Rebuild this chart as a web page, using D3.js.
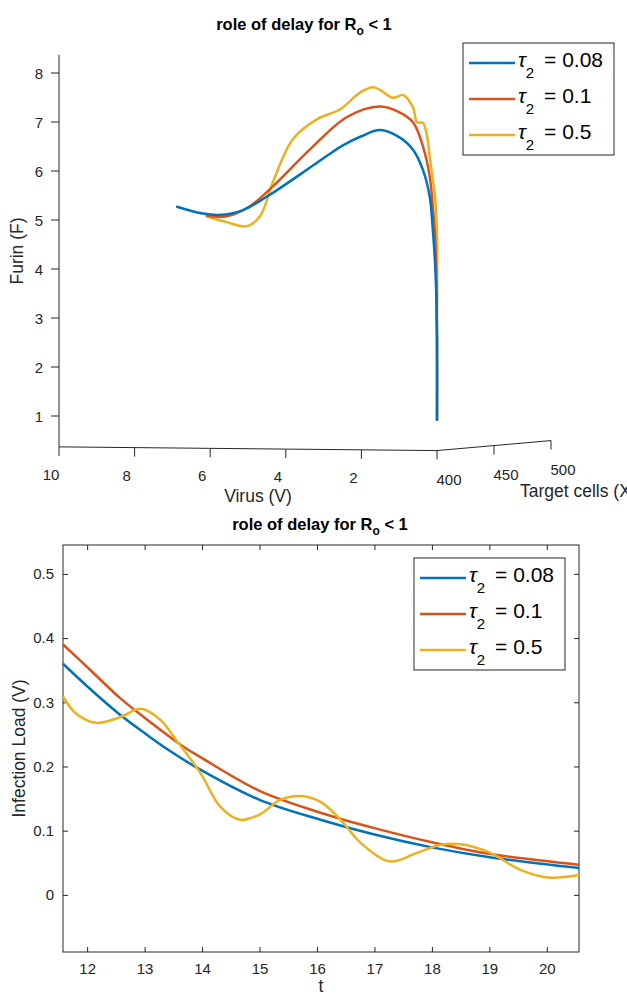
<!DOCTYPE html>
<html>
<head>
<meta charset="utf-8">
<script src="https://cdn.jsdelivr.net/npm/d3@7"></script>
<style>
  body { margin: 0; background: #fff; }
  text { font-family: "Liberation Sans", Arial, sans-serif; fill: #262626; }
  .tick text { font-size: 15px; }
</style>
</head>
<body>
<script>
// series shared by both panels
const seriesNames = ["0.08", "0.1", "0.5"];
const seriesColors = ["#0072BD", "#D95319", "#EDB120"];

// top panel: trajectory in (Virus, Target cells, Furin) space
const targetCells = 400;
const topBlueV = [0, 0, 0.02, 0.05, 0.11, 0.19, 0.37, 0.63, 0.98, 1.51, 2.0, 2.49, 2.9, 3.36, 4.42, 5.13, 5.7, 6.19, 6.9];
const topBlueF = [0.98, 2.6, 3.6, 4.19, 4.87, 5.54, 6.09, 6.5, 6.75, 6.9, 6.77, 6.58, 6.37, 6.12, 5.56, 5.24, 5.14, 5.16, 5.3];
const topRedV = [0, 0, 0.02, 0.05, 0.11, 0.19, 0.37, 0.63, 0.98, 1.51, 2.38, 3.36, 4.34, 4.95, 5.56, 6.12];
const topRedF = [0.98, 2.6, 3.9, 4.73, 5.34, 5.95, 6.57, 7.06, 7.26, 7.38, 7.16, 6.49, 5.73, 5.32, 5.11, 5.12];
const topYellowV = [0, 0, 0, 0.05, 0.11, 0.19, 0.26, 0.37, 0.53, 0.63, 0.9, 1.16, 1.51, 1.69, 2.04, 2.57, 3.17, 3.81, 4.34, 4.68, 5.03, 5.56, 6.1];
const topYellowF = [0.98, 2.6, 4.73, 5.54, 5.89, 6.36, 6.77, 7.05, 7.07, 7.36, 7.62, 7.56, 7.72, 7.77, 7.66, 7.31, 7.11, 6.7, 5.82, 5.12, 4.91, 4.99, 5.1];

const fTicks = [1, 2, 3, 4, 5, 6, 7, 8];
const vTicks = [2, 4, 6, 8, 10];
const cellTicks = [400, 450, 500];
const fLim = [0.37, 8.37];

// bottom panel: infection load over time
const botBlueT = [11.58, 12.0, 12.54, 13.0, 13.41, 13.97, 15.0, 16.06, 17.0, 18.0, 18.98, 20.56];
const botBlueV = [0.36, 0.325, 0.283, 0.252, 0.226, 0.195, 0.148, 0.117, 0.094, 0.074, 0.059, 0.042];
const botRedT = [11.58, 12.0, 12.58, 13.0, 13.69, 14.0, 15.0, 16.06, 17.0, 18.0, 19.0, 20.56];
const botRedV = [0.39, 0.355, 0.306, 0.276, 0.23, 0.213, 0.162, 0.128, 0.104, 0.082, 0.064, 0.047];
const botYellowT = [11.58, 11.8, 12.16, 12.58, 12.93, 13.27, 13.55, 13.97, 14.32, 14.66, 15.0, 15.36, 15.71, 16.06, 16.41, 16.76, 17.28, 17.73, 18.15, 18.5, 18.98, 19.54, 20.03, 20.56];
const botYellowV = [0.309, 0.283, 0.268, 0.277, 0.29, 0.273, 0.241, 0.19, 0.137, 0.117, 0.125, 0.148, 0.154, 0.145, 0.117, 0.081, 0.052, 0.065, 0.078, 0.079, 0.067, 0.039, 0.027, 0.031];

const tTicks = [12, 13, 14, 15, 16, 17, 18, 19, 20];
const loadTicks = [0, 0.1, 0.2, 0.3, 0.4, 0.5];

const axisColor = "#262626";

const svg = d3.select("body").append("svg")
    .attr("width", 627)
    .attr("height", 997);

//------------- legend + title helpers
function drawLegend(g, x0, y0) {
    g.append("rect")
        .attr("x", x0).attr("y", y0)
        .attr("width", 151).attr("height", 112)
        .attr("fill", "#fff").attr("stroke", axisColor).attr("stroke-width", 1);
    seriesNames.forEach((name, i) => {
        const y = y0 + 20 + i * 36;
        g.append("line")
            .attr("x1", x0 + 6).attr("x2", x0 + 52)
            .attr("y1", y).attr("y2", y)
            .attr("stroke", seriesColors[i]).attr("stroke-width", 2.5);
        const t = g.append("text")
            .attr("x", x0 + 55).attr("y", y + 4)
            .attr("font-size", 21)
            .style("fill", "#000");
        t.append("tspan").attr("font-style", "italic").text("\u03C4");
        t.append("tspan").attr("font-size", 15).attr("dy", 11).text("2");
        t.append("tspan").attr("dy", -11).attr("dx", 4).text(" = " + name);
    });
}

function drawTitle(g, cx, y) {
    const t = g.append("text")
        .attr("x", cx).attr("y", y)
        .attr("text-anchor", "middle")
        .attr("font-size", 16.5)
        .attr("font-weight", "bold")
        .style("fill", "#000");
    t.append("tspan").text("role of delay for R");
    t.append("tspan").attr("font-size", 12).attr("dy", 5).text("o");
    t.append("tspan").attr("dy", -5).text(" < 1");
}

//------------- top panel (3-D view)
const vScale = d3.scaleLinear().domain([0, 10]).range([437, 59]);
const fScale = d3.scaleLinear().domain([1, 8]).range([416, 73]);
const vDrop = d3.scaleLinear().domain([10, 0]).range([0, 3.7]);
const cellsX = d3.scaleLinear().domain([400, 500]).range([0, 114]);
const cellsY = d3.scaleLinear().domain([400, 500]).range([0, -10]);

function proj(v, c, f) {
    return [vScale(v) + cellsX(c), fScale(f) + vDrop(v) + cellsY(c)];
}

const topPanel = svg.append("g");

// Furin axis
const fBase = proj(10, 400, fLim[0]);
const fTop = proj(10, 400, fLim[1]);
topPanel.append("line")
    .attr("x1", fBase[0]).attr("y1", fBase[1])
    .attr("x2", fTop[0]).attr("y2", fTop[1])
    .attr("stroke", axisColor);
fTicks.forEach(f => {
    const p = proj(10, 400, f);
    topPanel.append("line")
        .attr("x1", p[0]).attr("x2", p[0] - 8)
        .attr("y1", p[1]).attr("y2", p[1])
        .attr("stroke", axisColor);
    topPanel.append("text")
        .attr("x", p[0] - 16).attr("y", p[1] + 5.5)
        .attr("text-anchor", "end")
        .attr("font-size", 15)
        .text(f);
});

// Virus axis
const vEnd = proj(0, 400, fLim[0]);
topPanel.append("line")
    .attr("x1", fBase[0]).attr("y1", fBase[1])
    .attr("x2", vEnd[0]).attr("y2", vEnd[1])
    .attr("stroke", axisColor);
vTicks.forEach(v => {
    const p = proj(v, 400, fLim[0]);
    topPanel.append("line")
        .attr("x1", p[0]).attr("x2", p[0])
        .attr("y1", p[1]).attr("y2", p[1] + 9)
        .attr("stroke", axisColor);
    topPanel.append("text")
        .attr("x", p[0] - 8).attr("y", p[1] + 33)
        .attr("text-anchor", "middle")
        .attr("font-size", 15)
        .text(v);
});

// Target cells axis
const cEnd = proj(0, 500, fLim[0]);
topPanel.append("line")
    .attr("x1", vEnd[0]).attr("y1", vEnd[1])
    .attr("x2", cEnd[0]).attr("y2", cEnd[1])
    .attr("stroke", axisColor);
cellTicks.forEach(c => {
    const p = proj(0, c, fLim[0]);
    topPanel.append("line")
        .attr("x1", p[0]).attr("x2", p[0])
        .attr("y1", p[1]).attr("y2", p[1] + 9)
        .attr("stroke", axisColor);
    topPanel.append("text")
        .attr("x", p[0] + 12).attr("y", p[1] + 34)
        .attr("text-anchor", "middle")
        .attr("font-size", 15)
        .text(c);
});

topPanel.append("text")
    .attr("x", 258).attr("y", 502)
    .attr("text-anchor", "middle")
    .attr("font-size", 17.5)
    .text("Virus (V)");
topPanel.append("text")
    .attr("x", 520).attr("y", 497)
    .attr("font-size", 17.5)
    .text("Target cells (X)");
topPanel.append("text")
    .attr("transform", "translate(23,251) rotate(-90)")
    .attr("text-anchor", "middle")
    .attr("font-size", 17.5)
    .text("Furin (F)");

const topSeries = [
    topBlueV.map((v, i) => ({v: v, f: topBlueF[i]})),
    topRedV.map((v, i) => ({v: v, f: topRedF[i]})),
    topYellowV.map((v, i) => ({v: v, f: topYellowF[i]}))
];

const topLine = d3.line()
    .x(d => proj(d.v, targetCells, d.f)[0])
    .y(d => proj(d.v, targetCells, d.f)[1])
    .curve(d3.curveCatmullRom);

// yellow first so the blue lies on top along the vertical drop, as in the picture
[2, 1, 0].forEach(i => {
    topPanel.append("path")
        .datum(topSeries[i])
        .attr("fill", "none")
        .attr("stroke", seriesColors[i])
        .attr("stroke-width", 2.5)
        .attr("d", topLine);
});

drawTitle(topPanel, 304, 30);
drawLegend(topPanel, 463, 43);

//------------- bottom panel
const box = {left: 63, right: 579, top: 545, bottom: 952};
const tScale = d3.scaleLinear().domain([11.58, 20.56]).range([box.left, box.right]);
const loadScale = d3.scaleLinear().domain([-0.089, 0.545]).range([box.bottom, box.top]);

const bot = svg.append("g");

bot.append("g")
    .attr("transform", `translate(0,${box.bottom})`)
    .call(d3.axisBottom(tScale).tickValues(tTicks).tickSize(-5).tickPadding(11))
    .call(g => g.select(".domain").remove());
bot.append("g")
    .attr("transform", `translate(0,${box.top})`)
    .call(d3.axisTop(tScale).tickValues(tTicks).tickSize(-5).tickFormat(""))
    .call(g => g.select(".domain").remove());
bot.append("g")
    .attr("transform", `translate(${box.left},0)`)
    .call(d3.axisLeft(loadScale).tickValues(loadTicks).tickSize(-5).tickPadding(9).tickFormat(d3.format("~g")))
    .call(g => g.select(".domain").remove());
bot.append("g")
    .attr("transform", `translate(${box.right},0)`)
    .call(d3.axisRight(loadScale).tickValues(loadTicks).tickSize(-5).tickFormat(""))
    .call(g => g.select(".domain").remove());

bot.selectAll(".tick line").attr("stroke", axisColor);
bot.selectAll("g").attr("font-family", null).attr("font-size", null);

bot.append("rect")
    .attr("x", box.left).attr("y", box.top)
    .attr("width", box.right - box.left).attr("height", box.bottom - box.top)
    .attr("fill", "none").attr("stroke", axisColor);

const botSeries = [
    botBlueT.map((t, i) => ({t: t, v: botBlueV[i]})),
    botRedT.map((t, i) => ({t: t, v: botRedV[i]})),
    botYellowT.map((t, i) => ({t: t, v: botYellowV[i]}))
];

const botLine = d3.line()
    .x(d => tScale(d.t))
    .y(d => loadScale(d.v))
    .curve(d3.curveCatmullRom);

botSeries.forEach((s, i) => {
    bot.append("path")
        .datum(s)
        .attr("fill", "none")
        .attr("stroke", seriesColors[i])
        .attr("stroke-width", 2.5)
        .attr("d", botLine);
});

bot.append("text")
    .attr("x", (box.left + box.right) / 2).attr("y", 992)
    .attr("text-anchor", "middle")
    .attr("font-size", 17.5)
    .text("t");
bot.append("text")
    .attr("transform", `translate(25,${(box.top + box.bottom) / 2}) rotate(-90)`)
    .attr("text-anchor", "middle")
    .attr("font-size", 17.5)
    .text("Infection Load (V)");

drawTitle(bot, 320, 530);
drawLegend(bot, 414, 558);
</script>
</body>
</html>
